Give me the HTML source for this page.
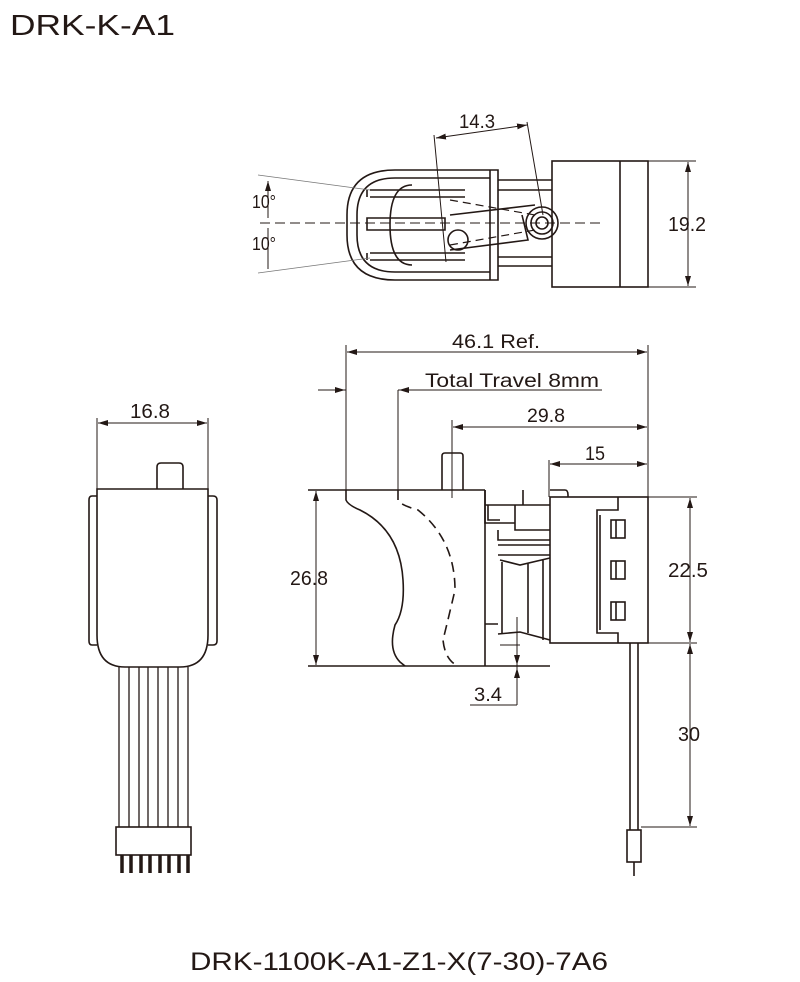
<html><head><style>body{margin:0;background:#fff}svg text{font-family:"Liberation Sans",sans-serif;fill:#231815}</style></head><body>
<svg width="800" height="982" viewBox="0 0 800 982" xmlns="http://www.w3.org/2000/svg" fill="none" stroke="#231815" stroke-width="1.6">
<defs><marker id="a" viewBox="0 0 10 6" refX="10" refY="3" markerWidth="10" markerHeight="6" orient="auto-start-reverse"><path d="M0,0L10,3L0,6z" fill="#231815" stroke="none"/></marker></defs>
<text x="10" y="35" font-size="29" stroke="none" textLength="165" lengthAdjust="spacingAndGlyphs">DRK-K-A1</text>
<text x="190" y="970" font-size="25" stroke="none" textLength="418" lengthAdjust="spacingAndGlyphs">DRK-1100K-A1-Z1-X(7-30)-7A6</text>

<!-- top view -->
<g>
<path d="M498,170 H395 Q347,170 347,215 V235 Q347,280 395,280 H498 Z"/>
<path d="M490,178 H395 Q357,178 357,215 V235 Q357,272 395,272 H490"/>
<line x1="490" y1="170" x2="490" y2="280"/>
<path d="M412,185 Q390,185 390,225 Q390,265 412,265"/>
<path d="M370,190 H465 M370,197 H465 M367,190 V197"/>
<path d="M370,253 H465 M370,260 H465 M367,253 V260"/>
<path d="M367,218 H445 V230 H367 Z"/>
<path d="M498,180 H552 M498,190 H552 M498,257 H552 M498,266 H552"/>
<rect x="552" y="161" width="96" height="126"/>
<line x1="620" y1="161" x2="620" y2="287"/>
<circle cx="542" cy="223" r="16"/><circle cx="542" cy="223" r="11"/><circle cx="542" cy="223" r="6"/>
<path d="M450,215 L535,205 M450,250 L528,240 L522,215"/>
<circle cx="458" cy="240" r="10"/>
<path d="M260,223 H600" stroke-dasharray="10,5" stroke-width="1"/>
<path d="M450,200 L535,215 M450,245 L535,230" stroke-dasharray="8,5" stroke-width="1.2"/>
<path d="M258,175 L370,190 M258,273 L370,258" stroke-width="0.8" stroke="#777"/>
<path d="M268,181 V218 M268,228 V269" marker-start="url(#a)" stroke-width="1"/>
<text x="252" y="208" font-size="18" stroke="none" textLength="24" lengthAdjust="spacingAndGlyphs">10°</text>
<text x="252" y="250" font-size="18" stroke="none" textLength="24" lengthAdjust="spacingAndGlyphs">10°</text>
<path d="M434,135 L446,262 M527,122 L543,215" stroke-width="1"/>
<path d="M436,138 L527,125" marker-start="url(#a)" marker-end="url(#a)" stroke-width="1"/>
<text x="459" y="128" font-size="19" stroke="none" textLength="36" lengthAdjust="spacingAndGlyphs">14.3</text>
<path d="M648,161 H696 M648,287 H696" stroke-width="1"/>
<path d="M688,162 V286" marker-start="url(#a)" marker-end="url(#a)" stroke-width="1"/>
<text x="668" y="231" font-size="20" stroke="none" textLength="38" lengthAdjust="spacingAndGlyphs">19.2</text>
</g>

<!-- left view -->
<g>
<path d="M97,418 V489 M208,418 V489" stroke-width="1"/>
<path d="M98,423 H207" marker-start="url(#a)" marker-end="url(#a)" stroke-width="1"/>
<text x="130" y="418" font-size="20" stroke="none" textLength="40" lengthAdjust="spacingAndGlyphs">16.8</text>
<path d="M157,489 V467 Q157,463 161,463 H179 Q183,463 183,467 V489"/>
<path d="M97,489 H208 V635 Q208,667 180,667 H125 Q97,667 97,635 Z"/>
<path d="M97,496 H92 Q89,496 89,500 V641 Q89,645 92,645 H97 M208,496 H213 Q217,496 217,500 V641 Q217,645 213,645 H208"/>
<path d="M119,667 V827 M129,667 V827 M139,667 V827 M148,667 V827 M158,667 V827 M168,667 V827 M178,667 V827 M188,667 V827" stroke-width="1.3"/>
<rect x="116" y="827" width="75" height="28"/>
<path d="M122,855 V873 M131,855 V873 M141,855 V873 M150,855 V873 M160,855 V873 M169,855 V873 M179,855 V873 M188,855 V873" stroke-width="3.5"/>
</g>

<!-- side view -->
<g>
<path d="M346,345 V490 M648,345 V497" stroke-width="1"/>
<path d="M347,352 H647" marker-start="url(#a)" marker-end="url(#a)" stroke-width="1"/>
<text x="452" y="348" font-size="19" stroke="none" textLength="88" lengthAdjust="spacingAndGlyphs">46.1 Ref.</text>
<path d="M318,390 H346 M398,390 V490" stroke-width="1"/>
<path d="M398,390 H602" stroke-width="1"/>
<path d="M318,390 H345" marker-end="url(#a)" stroke-width="1"/>
<path d="M425,390 H399" marker-end="url(#a)" stroke-width="1"/>
<text x="425" y="387" font-size="19" stroke="none" textLength="174" lengthAdjust="spacingAndGlyphs">Total Travel 8mm</text>
<path d="M452,420 V498" stroke-width="1"/>
<path d="M453,427 H647" marker-start="url(#a)" marker-end="url(#a)" stroke-width="1"/>
<text x="527" y="422" font-size="19" stroke="none" textLength="38" lengthAdjust="spacingAndGlyphs">29.8</text>
<path d="M549,460 V497" stroke-width="1"/>
<path d="M550,464 H647" marker-start="url(#a)" marker-end="url(#a)" stroke-width="1"/>
<text x="585" y="460" font-size="19" stroke="none" textLength="20" lengthAdjust="spacingAndGlyphs">15</text>
<path d="M442,490 V456 Q442,453 445,453 H460 Q463,453 463,456 V490"/>
<path d="M308,490 H485 M308,666 H550" stroke-width="1.6"/>
<path d="M346,490 V500 Q348,505 360,510 Q400,530 403,580 Q405,610 395,625 Q388,650 400,662 L405,666"/>
<path d="M398,490 V500 Q400,505 418,510 Q455,540 455,590 Q448,620 443,640 Q445,660 458,666" stroke-dasharray="10,6"/>
<path d="M485,490 V523 H515 M485,505 H550 M488,505 V520 H500 M515,505 V530 H550 M498,530 V540 H550 M498,545 H550 M498,555 H550 M500,560 L520,565 L550,558 M502,562 V633 M528,563 V633 M543,560 V640 M550,490 H565 Q568,490 568,495 V497 M523,490 V505"/>
<path d="M485,490 V624 H498 M485,624 V666 M498,634 L520,632 L550,640"/>
<rect x="550" y="497" width="98" height="146"/>
<path d="M618,497 V510 H597 V633 H618 V643 M600,515 V630"/>
<rect x="611" y="520" width="14" height="18"/><line x1="616" y1="520" x2="616" y2="538"/>
<rect x="611" y="561" width="14" height="18"/><line x1="616" y1="561" x2="616" y2="579"/>
<rect x="611" y="602" width="14" height="18"/><line x1="616" y1="602" x2="616" y2="620"/>
<path d="M630,643 V830 M638,643 V830"/>
<rect x="627" y="830" width="14" height="32"/>
<path d="M634,862 V876"/>
<path d="M316,491 V665" marker-start="url(#a)" marker-end="url(#a)" stroke-width="1"/>
<text x="290" y="585" font-size="20" stroke="none" textLength="38" lengthAdjust="spacingAndGlyphs">26.8</text>
<path d="M648,497 H697 M640,643 H697 M641,827 H697" stroke-width="1"/>
<path d="M690,498 V642" marker-start="url(#a)" marker-end="url(#a)" stroke-width="1"/>
<text x="668" y="577" font-size="20" stroke="none" textLength="40" lengthAdjust="spacingAndGlyphs">22.5</text>
<path d="M690,644 V826" marker-start="url(#a)" marker-end="url(#a)" stroke-width="1"/>
<text x="678" y="741" font-size="20" stroke="none" textLength="22" lengthAdjust="spacingAndGlyphs">30</text>
<path d="M517,617 V705 M470,705 H517" stroke-width="1"/>
<path d="M517,645 V665" marker-end="url(#a)" stroke-width="1"/>
<path d="M517,690 V668" marker-end="url(#a)" stroke-width="1"/>
<path d="M500,645 H520" stroke-width="1"/>
<text x="474" y="701" font-size="19" stroke="none" textLength="28" lengthAdjust="spacingAndGlyphs">3.4</text>
</g>
</svg>
</body></html>
